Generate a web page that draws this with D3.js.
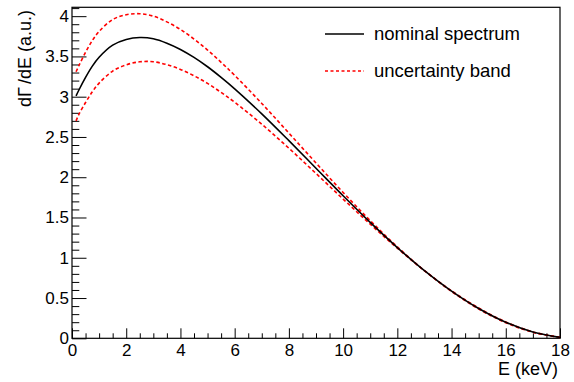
<!DOCTYPE html>
<html>
<head>
<meta charset="utf-8">
<script src="https://cdn.jsdelivr.net/npm/d3@7"></script>
<style>
  html, body { margin: 0; padding: 0; background: #fff; }
  svg { display: block; }
  text { font-family: "Liberation Sans", Arial, Helvetica, sans-serif; fill: #000; }
</style>
</head>
<body>
<svg id="chart" width="574" height="382"></svg>
<script>
// ---- data ----
const energies = [0.15, 0.25, 0.5, 0.75, 1, 1.5, 2, 2.5, 3, 3.5, 4, 4.5, 5, 5.5, 6, 7, 8, 9, 10, 11, 12, 13, 14, 15, 16, 17, 18];
const nominal  = [3.01, 3.08, 3.24, 3.38, 3.49, 3.64, 3.71, 3.735, 3.72, 3.665, 3.587, 3.488, 3.372, 3.24, 3.098, 2.787, 2.454, 2.112, 1.77, 1.439, 1.127, 0.84, 0.586, 0.37, 0.199, 0.077, 0.011];
const upperBand = [3.310, 3.382, 3.552, 3.698, 3.810, 3.958, 4.018, 4.030, 4.000, 3.929, 3.835, 3.716, 3.579, 3.427, 3.265, 2.916, 2.548, 2.177, 1.811, 1.461, 1.136, 0.84, 0.582, 0.364, 0.194, 0.075, 0.011];
const lowerBand = [2.700, 2.778, 2.928, 3.061, 3.168, 3.318, 3.396, 3.433, 3.434, 3.397, 3.339, 3.260, 3.165, 3.053, 2.931, 2.658, 2.360, 2.047, 1.729, 1.417, 1.118, 0.84, 0.590, 0.376, 0.204, 0.079, 0.011];
const xMajorTicks = [0, 2, 4, 6, 8, 10, 12, 14, 16, 18];
const yMajorTicks = [0, 0.5, 1, 1.5, 2, 2.5, 3, 3.5, 4];
const legendLabels = ["nominal spectrum", "uncertainty band"];
const xTitle = "E (keV)";

// ---- layout ----
const padL = 72, padR = 560, padT = 7.3, padB = 338.3;
const svg = d3.select("#chart");
const x = d3.scaleLinear().domain([0, 18]).range([padL, padR]);
const y = d3.scaleLinear().domain([0, 4.11]).range([padB, padT]);

// minor ticks
const xMinor = d3.range(0, 18.001, 0.5).filter(v => Math.abs(v / 2 - Math.round(v / 2)) > 1e-6);
const yMinor = d3.range(0, 4.11, 0.1).filter(v => Math.abs(v / 0.5 - Math.round(v / 0.5)) > 1e-6);

// X axis
const gx = svg.append("g").attr("transform", `translate(0,${padB})`)
  .call(d3.axisBottom(x).tickValues(xMajorTicks).tickSizeInner(-10).tickSizeOuter(0).tickPadding(6)
    .tickFormat(d3.format("d")));
gx.select(".domain").remove();
gx.selectAll("text").attr("font-size", 17).attr("font-family", null);
const gxm = svg.append("g").attr("transform", `translate(0,${padB})`)
  .call(d3.axisBottom(x).tickValues(xMinor).tickSizeInner(-5).tickSizeOuter(0).tickFormat(""));
gxm.select(".domain").remove();

// Y axis
const gy = svg.append("g").attr("transform", `translate(${padL},0)`)
  .call(d3.axisLeft(y).tickValues(yMajorTicks).tickSizeInner(-14.5).tickSizeOuter(0).tickPadding(3)
    .tickFormat(d3.format("~g")));
gy.select(".domain").remove();
gy.selectAll("text").attr("font-size", 17).attr("font-family", null);
const gym = svg.append("g").attr("transform", `translate(${padL},0)`)
  .call(d3.axisLeft(y).tickValues(yMinor).tickSizeInner(-7.3).tickSizeOuter(0).tickFormat(""));
gym.select(".domain").remove();

// frame
svg.append("rect").attr("x", padL).attr("y", padT).attr("width", padR - padL).attr("height", padB - padT)
  .attr("fill", "none").attr("stroke", "#000").attr("stroke-width", 1.2);

// curves
const mkLine = arr => d3.line().x((d, i) => x(energies[i])).y((d, i) => y(arr[i])).curve(d3.curveCatmullRom.alpha(0.5));
svg.append("path").datum(upperBand).attr("d", mkLine(upperBand)).attr("fill", "none")
  .attr("stroke", "#ff0000").attr("stroke-width", 1.6).attr("stroke-dasharray", "3.5,2.5");
svg.append("path").datum(lowerBand).attr("d", mkLine(lowerBand)).attr("fill", "none")
  .attr("stroke", "#ff0000").attr("stroke-width", 1.6).attr("stroke-dasharray", "3.5,2.5");
svg.append("path").datum(nominal).attr("d", mkLine(nominal)).attr("fill", "none")
  .attr("stroke", "#000").attr("stroke-width", 1.6);

// axis titles
svg.append("text").attr("x", 558).attr("y", 375).attr("text-anchor", "end")
  .attr("font-size", 18).text(xTitle);
const yt = svg.append("text").attr("transform", "translate(31,10) rotate(-90)")
  .attr("text-anchor", "end").attr("font-size", 18);
yt.append("tspan").text("dΓ");
yt.append("tspan").attr("dx", 3).text("/dE (a.u.)");

// legend
const leg = svg.append("g");
leg.append("line").attr("x1", 325).attr("x2", 364).attr("y1", 34).attr("y2", 34)
  .attr("stroke", "#000").attr("stroke-width", 1.6);
leg.append("text").attr("x", 374).attr("y", 40).attr("font-size", 18.5).text(legendLabels[0]);
leg.append("line").attr("x1", 325).attr("x2", 364).attr("y1", 71).attr("y2", 71)
  .attr("stroke", "#ff0000").attr("stroke-width", 1.6).attr("stroke-dasharray", "3,2.5");
leg.append("text").attr("x", 374).attr("y", 77).attr("font-size", 18.5).text(legendLabels[1]);
</script>
</body>
</html>
